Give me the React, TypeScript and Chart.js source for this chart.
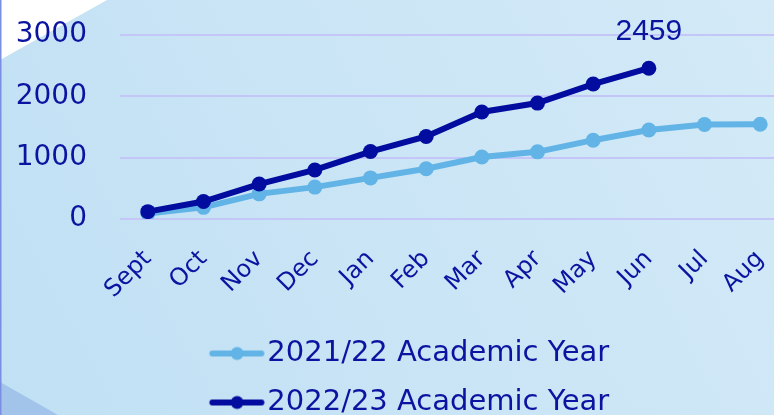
import React, { useEffect, useRef } from "react";
import { Chart, registerables } from "chart.js";

Chart.register(...registerables);

const months = ["Sept", "Oct", "Nov", "Dec", "Jan", "Feb", "Mar", "Apr", "May", "Jun", "Jul", "Aug"];
const year2122 = [90, 190, 410, 520, 670, 820, 1010, 1095, 1285, 1450, 1540, 1545];
const year2223 = [120, 285, 570, 800, 1100, 1345, 1745, 1890, 2200, 2459, null, null];
const seriesNames = ["2021/22 Academic Year", "2022/23 Academic Year"];
const yTicks = [0, 1000, 2000, 3000];

const LIGHT = "#62b4e6";
const DARK = "#020c9e";
const TEXT = "#0a14a0";
const FONT = "'DejaVu Sans', sans-serif";

function legendImage(color: string) {
  const c = document.createElement("canvas");
  c.width = 98;
  c.height = 16;
  const g = c.getContext("2d")!;
  g.strokeStyle = color;
  g.lineWidth = 6;
  g.lineCap = "round";
  g.beginPath();
  g.moveTo(45.5, 8);
  g.lineTo(94.5, 8);
  g.stroke();
  g.fillStyle = color;
  g.beginPath();
  g.arc(70.25, 8, 6.5, 0, Math.PI * 2);
  g.fill();
  return c;
}

const bgPlugin = {
  id: "bg",
  beforeDraw(chart: any) {
    const { ctx, width, height } = chart;
    ctx.save();
    const grad = ctx.createLinearGradient(width, 0, 0, height);
    grad.addColorStop(0, "#d4eaf7");
    grad.addColorStop(1, "#c0e0f4");
    ctx.fillStyle = grad;
    ctx.fillRect(0, 0, width, height);
    ctx.fillStyle = "#ffffff";
    ctx.beginPath();
    ctx.moveTo(0, 0);
    ctx.lineTo(107, 0);
    ctx.lineTo(0, 60);
    ctx.closePath();
    ctx.fill();
    ctx.fillStyle = "#a2c4ea";
    ctx.beginPath();
    ctx.moveTo(0, 382);
    ctx.lineTo(58, 415);
    ctx.lineTo(58, height);
    ctx.lineTo(0, height);
    ctx.closePath();
    ctx.fill();
    ctx.fillStyle = "#7a8ee2";
    ctx.fillRect(0, 0, 1.5, height);
    ctx.restore();
  },
};

const labelPlugin = {
  id: "lastLabel",
  afterDatasetsDraw(chart: any) {
    const meta = chart.getDatasetMeta(1);
    const idx = 9;
    const pt = meta.data[idx];
    if (!pt) return;
    const { ctx } = chart;
    ctx.save();
    ctx.fillStyle = TEXT;
    ctx.font = "30px 'Liberation Sans', Arial, sans-serif";
    ctx.textAlign = "center";
    ctx.textBaseline = "middle";
    ctx.fillText(String(year2223[idx]), pt.x, pt.y - 36);
    ctx.restore();
  },
};

export default function App() {
  const ref = useRef<HTMLCanvasElement>(null);
  useEffect(() => {
    document.body.style.margin = "0";
    const imgs = [legendImage(LIGHT), legendImage(DARK)];
    const chart = new Chart(ref.current!, {
      type: "line",
      data: {
        labels: months,
        datasets: [
          {
            label: seriesNames[0],
            data: year2122,
            borderColor: LIGHT,
            backgroundColor: LIGHT,
            borderWidth: 6,
            pointRadius: 7.5,
            pointBorderWidth: 0,
            pointHoverRadius: 7.5,
            order: 1,
          },
          {
            label: seriesNames[1],
            data: year2223,
            borderColor: DARK,
            backgroundColor: DARK,
            borderWidth: 6,
            pointRadius: 7.5,
            pointBorderWidth: 0,
            pointHoverRadius: 7.5,
            order: 0,
          },
        ],
      },
      options: {
        responsive: false,
        animation: false,
        layout: { padding: { top: 35, left: 0, right: 12, bottom: 0 } },
        plugins: {
          tooltip: { enabled: false },
          legend: {
            position: "bottom",
            labels: {
              color: TEXT,
              font: { family: FONT, size: 29 },
              padding: 20,
              usePointStyle: true,
              pointStyleWidth: 74,
              generateLabels: (chart: any) =>
                chart.data.datasets.map((ds: any, i: number) => ({
                  text: ds.label,
                  pointStyle: imgs[i],
                  fillStyle: ds.borderColor,
                  strokeStyle: ds.borderColor,
                  lineWidth: 0,
                  fontColor: TEXT,
                  hidden: false,
                  datasetIndex: i,
                })),
            },
          },
        },
        scales: {
          x: {
            offset: true,
            grid: { display: false },
            border: { display: false },
            ticks: {
              color: TEXT,
              font: { family: FONT, size: 24 },
              minRotation: 45,
              maxRotation: 45,
              autoSkip: false,
              padding: 18,
            },
            afterFit: (s: any) => {
              s.height = 100;
            },
          },
          y: {
            min: 0,
            max: 3000,
            afterBuildTicks: (s: any) => {
              s.ticks = yTicks.map((v) => ({ value: v }));
            },
            grid: { color: "#c4c6f8", lineWidth: 2, drawTicks: false },
            border: { display: false },
            ticks: {
              color: TEXT,
              font: { family: FONT, size: 28 },
              padding: 33,
              callback: (v: any) => String(v),
            },
            afterFit: (s: any) => {
              s.width = 120;
              s.paddingTop = 0;
              s.paddingBottom = 0;
            },
          },
        },
      },
      plugins: [bgPlugin, labelPlugin],
    });
    return () => chart.destroy();
  }, []);
  return (
    <div style={{ position: "relative", width: 774, height: 415, overflow: "hidden" }}>
      <canvas
        ref={ref}
        width={800}
        height={427}
        style={{ position: "absolute", left: 0, top: 0, width: 800, height: 427 }}
      />
    </div>
  );
}
